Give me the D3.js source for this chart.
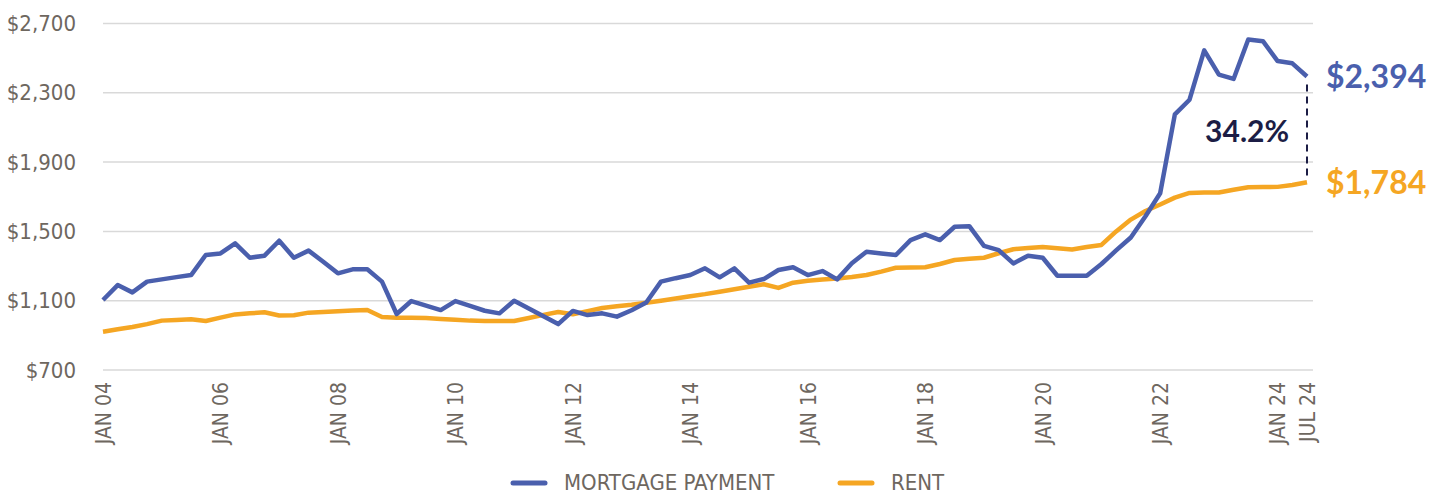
<!DOCTYPE html>
<html>
<head>
<meta charset="utf-8">
<script src="https://cdn.jsdelivr.net/npm/d3@7"></script>
<style>
  html, body { margin: 0; padding: 0; background: #fff; }
  svg { display: block; }
  .tick text { font-family: "Liberation Sans Narrow", "DejaVu Sans Condensed", sans-serif; fill: #6e675f; }
</style>
</head>
<body>
<svg id="chart" width="1445" height="496"></svg>
<script>
// quarterly, Jan 2004 .. Jul 2024
const mortgage = [
  1104, 1190, 1148, 1210, 1223, 1236, 1248, 1364, 1373, 1431,
  1348, 1360, 1446, 1348, 1389, 1325, 1258, 1281, 1281, 1210,
  1023, 1098, 1072, 1046, 1098, 1070, 1042, 1027, 1100, 1055,
  1010, 965, 1041, 1017, 1027, 1008, 1045, 1090, 1210, 1230,
  1248, 1287, 1235, 1287, 1204, 1225, 1277, 1293, 1248, 1271,
  1223, 1316, 1383, 1373, 1364, 1450, 1483, 1450, 1527, 1530,
  1416, 1392, 1315, 1360, 1348, 1244, 1244, 1244, 1312, 1390,
  1465, 1587, 1720, 2175, 2260, 2545, 2405, 2380, 2608, 2598,
  2483, 2470, 2394
];
const rent = [
  921, 935, 948, 965, 985, 989, 993, 983, 1002, 1021,
  1027, 1033, 1015, 1016, 1031, 1035, 1039, 1043, 1046, 1006,
  1002, 1002, 1000, 995, 990, 985, 983, 983, 983, 1000,
  1018, 1035, 1022, 1040, 1058, 1068, 1077, 1088, 1100, 1113,
  1126, 1138, 1152, 1166, 1181, 1195, 1174, 1204, 1215, 1222,
  1228, 1237, 1248, 1268, 1290, 1291, 1293, 1312, 1335, 1342,
  1348, 1374, 1397, 1404, 1410, 1403, 1396, 1410, 1422, 1500,
  1568, 1618, 1655, 1695, 1722, 1724, 1725, 1740, 1755, 1756,
  1757, 1768, 1784
];
const xTickIndex = [0, 8, 16, 24, 32, 40, 48, 56, 64, 72, 80, 82];
const xTickLabels = ["JAN 04", "JAN 06", "JAN 08", "JAN 10", "JAN 12", "JAN 14",
                     "JAN 16", "JAN 18", "JAN 20", "JAN 22", "JAN 24", "JUL 24"];
const yTicks = [700, 1100, 1500, 1900, 2300, 2700];
const seriesNames = ["MORTGAGE PAYMENT", "RENT"];
const colors = ["#4a5fad", "#f5a623"];
const gapLabel = "34.2%";

const svg = d3.select("#chart");
const x = d3.scaleLinear().domain([0, mortgage.length - 1]).range([103, 1307]);
const y = d3.scaleLinear().domain([700, 2700]).range([370, 23.5]);

// gridlines
svg.append("g")
  .selectAll("line")
  .data(yTicks)
  .join("line")
  .attr("x1", 103).attr("x2", 1313)
  .attr("y1", d => y(d)).attr("y2", d => y(d))
  .attr("stroke", "#d9d9d9")
  .attr("stroke-width", 1.5);

// y axis labels
const yAxis = svg.append("g")
  .attr("transform", "translate(80,0)")
  .call(d3.axisLeft(y).tickValues(yTicks).tickSize(0).tickPadding(4)
    .tickFormat(d => "$" + d3.format(",")(d)));
yAxis.select(".domain").remove();
yAxis.selectAll("text").attr("font-size", 22);

// x axis labels (rotated)
const xAxis = svg.append("g")
  .attr("transform", "translate(0,380)")
  .call(d3.axisBottom(x).tickValues(xTickIndex).tickSize(0)
    .tickFormat((d, i) => xTickLabels[i]));
xAxis.select(".domain").remove();
xAxis.selectAll("text")
  .attr("font-size", 21)
  .attr("transform", "rotate(-90)")
  .attr("text-anchor", "end")
  .attr("x", -2)
  .attr("y", 0)
  .attr("dy", "0.35em");

const line = d3.line().x((d, i) => x(i)).y(d => y(d));

[rent, mortgage].forEach((s, k) => {
  svg.append("path")
    .datum(s)
    .attr("fill", "none")
    .attr("stroke", k === 0 ? colors[1] : colors[0])
    .attr("stroke-width", 4.5)
    .attr("stroke-linejoin", "round")
    .attr("d", line);
});

// gap annotation
const last = mortgage.length - 1;
svg.append("line")
  .attr("x1", x(last)).attr("x2", x(last))
  .attr("y1", y(mortgage[last]) + 8).attr("y2", y(rent[last]) - 6)
  .attr("stroke", "#1c1d45")
  .attr("stroke-width", 2)
  .attr("stroke-dasharray", "7,5");

svg.append("text")
  .attr("x", x(last) - 18)
  .attr("y", 142)
  .attr("text-anchor", "end")
  .attr("font-family", "Lato, 'Open Sans', sans-serif")
  .attr("font-weight", 700)
  .attr("font-size", 30)
  .attr("fill", "#1c1d45")
  .text(gapLabel);

// end value labels
[[mortgage, colors[0]], [rent, colors[1]]].forEach(([s, c]) => {
  svg.append("text")
    .attr("x", x(last) + 19)
    .attr("y", y(s[last]))
    .attr("dy", "0.36em")
    .attr("font-family", "Lato, 'Open Sans', sans-serif")
    .attr("font-weight", 700)
    .attr("font-size", 32)
    .attr("fill", c)
    .text("$" + d3.format(",")(s[last]));
});

// legend
const legend = svg.append("g").attr("transform", "translate(0,483)");
const legendX = [511, 838];
seriesNames.forEach((name, i) => {
  const g = legend.append("g").attr("transform", `translate(${legendX[i]},0)`);
  g.append("line")
    .attr("x1", 2).attr("x2", 34)
    .attr("stroke", colors[i])
    .attr("stroke-width", 5)
    .attr("stroke-linecap", "round");
  g.append("text")
    .attr("x", 53)
    .attr("dy", "0.34em")
    .attr("font-family", "'Liberation Sans Narrow', 'DejaVu Sans Condensed', sans-serif")
    .attr("font-size", 22)
    .attr("fill", "#6e675f")
    .text(name);
});
</script>
</body>
</html>
